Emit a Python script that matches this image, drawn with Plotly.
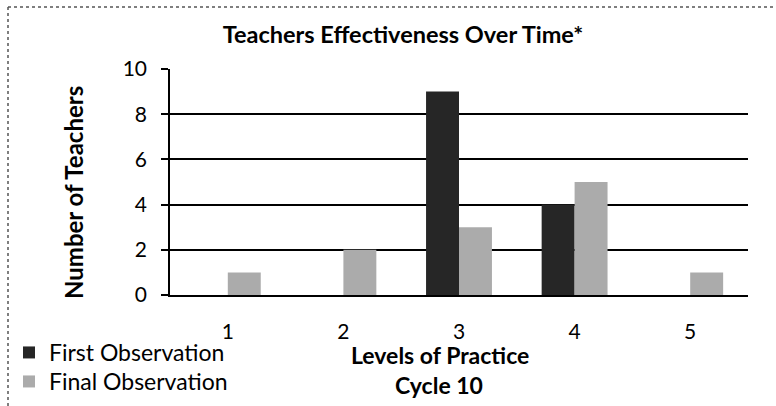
import plotly.graph_objects as go

# Levels of practice and the number of teachers at each level
levels = ["1", "2", "3", "4", "5"]
first_observation = [0, 0, 9, 4, 0]
final_observation = [1, 2, 3, 5, 1]
y_ticks = [0, 2, 4, 6, 8, 10]

FONT = "Lato"

fig = go.Figure()
fig.add_trace(go.Bar(
    x=levels, y=first_observation, name="First Observation",
    marker=dict(color="#262626", line=dict(width=0)),
    legend="legend",
))
fig.add_trace(go.Bar(
    x=levels, y=final_observation, name="Final Observation",
    marker=dict(color="#ababab", line=dict(width=0)),
    legend="legend2",
))

PL, PR, PT, PB = 170, 28, 69, 111
W, H = 776, 406
pw, ph = W - PL - PR, H - PT - PB

def px_x(x):
    return (x - PL) / pw

def px_y(y):
    return (H - PB - y) / ph

legend_style = dict(
    xanchor="left", yanchor="top",
    font=dict(family=FONT, size=23, color="black"),
    bgcolor="rgba(0,0,0,0)", itemwidth=30,
)

fig.update_layout(
    width=W, height=H,
    margin=dict(l=PL, r=PR, t=PT, b=PB, autoexpand=False),
    paper_bgcolor="white", plot_bgcolor="white",
    barmode="group", bargap=0.43, bargroupgap=0,
    font=dict(family=FONT, color="black", size=20),
    title=dict(
        text="<b>Teachers Effectiveness Over Time*</b>",
        font=dict(family=FONT, size=23.5, color="black"),
        xref="paper", x=px_x(403), xanchor="center",
        yref="container", y=1 - 35 / H, yanchor="middle",
    ),
    showlegend=True,
    legend=dict(x=px_x(9), y=px_y(331), **legend_style),
    legend2=dict(x=px_x(9), y=px_y(360), **legend_style),
    xaxis=dict(
        showgrid=False, showline=True, linecolor="black", linewidth=2,
        ticks="", ticklabelstandoff=17,
        tickfont=dict(family=FONT, size=21),
    ),
    yaxis=dict(
        range=[0, 10], tickvals=y_ticks,
        showgrid=True, gridcolor="black", gridwidth=1.5,
        showline=True, linecolor="black", linewidth=1.5,
        ticks="outside", ticklen=7, tickcolor="black", tickwidth=1.5,
        ticklabelstandoff=10, zeroline=False,
        tickfont=dict(family=FONT, size=21),
    ),
    annotations=[
        dict(text="<b>Number of Teachers</b>", textangle=-90,
             xref="paper", yref="paper", x=px_x(73), y=px_y(193),
             xanchor="center", yanchor="middle", showarrow=False,
             font=dict(family=FONT, size=24, color="black")),
        dict(text="<b>Levels of Practice</b>",
             xref="paper", yref="paper", x=px_x(440), y=px_y(355),
             xanchor="center", yanchor="middle", showarrow=False,
             font=dict(family=FONT, size=23, color="black")),
        dict(text="<b>Cycle 10</b>",
             xref="paper", yref="paper", x=px_x(439), y=px_y(385),
             xanchor="center", yanchor="middle", showarrow=False,
             font=dict(family=FONT, size=23, color="black")),
    ],
    shapes=[
        dict(type="line", xref="paper", yref="paper",
             x0=px_x(8), x1=px_x(776), y0=px_y(7), y1=px_y(7),
             line=dict(color="#555555", width=1.5, dash="dot")),
        dict(type="line", xref="paper", yref="paper",
             x0=px_x(8), x1=px_x(8), y0=px_y(7), y1=px_y(406),
             line=dict(color="#555555", width=1.5, dash="dot")),
    ],
)

fig.write_html("out.html")
